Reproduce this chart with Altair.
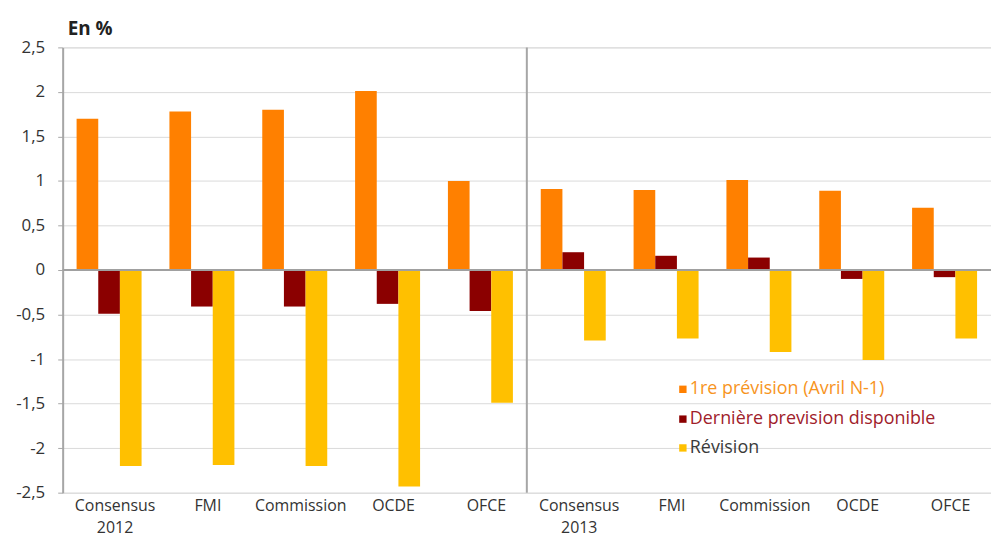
import altair as alt
import pandas as pd

categories = ["Consensus 2012", "FMI 2012", "Commission 2012", "OCDE 2012", "OFCE 2012",
              "Consensus 2013", "FMI 2013", "Commission 2013", "OCDE 2013", "OFCE 2013"]
series = ["1re prévision (Avril N-1)", "Dernière prevision disponible", "Révision"]
premiere = [1.70, 1.78, 1.80, 2.01, 1.00, 0.91, 0.90, 1.01, 0.89, 0.70]
derniere = [-0.49, -0.41, -0.41, -0.38, -0.46, 0.20, 0.16, 0.14, -0.10, -0.08]
revision = [-2.20, -2.19, -2.20, -2.43, -1.49, -0.79, -0.77, -0.92, -1.01, -0.77]
colors = ["#FF8000", "#8B0000", "#FFC000"]
legend_text_colors = ["#F7941D", "#A0202A", "#3A3A3A"]
y_ticks = [-2.5, -2, -1.5, -1, -0.5, 0, 0.5, 1, 1.5, 2, 2.5]

rows = []
for s, vals in zip(series, [premiere, derniere, revision]):
    for c, v in zip(categories, vals):
        rows.append({"cat": c, "serie": s, "val": v})
df = pd.DataFrame(rows)

W, H = 934, 448
FONT = "Open Sans"

bars = alt.Chart(df).mark_bar().encode(
    x=alt.X("cat:N", sort=categories,
            scale=alt.Scale(paddingInner=0.3, paddingOuter=0.15),
            axis=alt.Axis(title=None, labelAngle=0, domain=False, ticks=False,
                          labelPadding=5, labelFontSize=16, labelColor="#333333",
                          labelFont=FONT, labelLineHeight=22, labelOffset=6,
                          labelExpr="split(datum.value, ' ')[0] == 'Consensus' ? split(datum.value, ' ') : split(datum.value, ' ')[0]")),
    xOffset=alt.XOffset("serie:N", sort=series, scale=alt.Scale(paddingInner=0, paddingOuter=0)),
    y=alt.Y("val:Q", scale=alt.Scale(domain=[-2.5, 2.5], nice=False, zero=True),
            axis=alt.Axis(title=None, values=y_ticks, grid=True, gridColor="#DADADA",
                          domain=True, domainColor="#A6A6A6", domainWidth=2,
                          ticks=True, tickColor="#A6A6A6", tickSize=5,
                          labelFontSize=17, labelColor="#333333", labelFont=FONT,
                          labelPadding=13,
                          labelExpr="replace(toString(datum.value), '.', ',')")),
    color=alt.Color("serie:N", sort=series,
                    scale=alt.Scale(domain=series, range=colors), legend=None),
)

zero = alt.Chart(pd.DataFrame({"z": [0]})).mark_rule(color="#A0A0A0", strokeWidth=2).encode(
    y="z:Q"
)

sep = alt.Chart(pd.DataFrame({"z": [0]})).mark_rule(color="#A6A6A6", strokeWidth=2).encode(
    x=alt.value(W / 2), y=alt.value(0), y2=alt.value(H)
)

title = alt.Chart(pd.DataFrame({"t": ["En %"]})).mark_text(
    align="left", baseline="middle", fontSize=19, fontWeight="bold", font=FONT, color="#222222"
).encode(text="t:N", x=alt.value(5), y=alt.value(-18))

layers = [bars, zero, sep, title]
leg_y = [344, 374, 403]
for s, c, tc, ly in zip(series, colors, legend_text_colors, leg_y):
    d = pd.DataFrame({"label": [s]})
    layers.append(alt.Chart(d).mark_square(size=55, color=c, opacity=1).encode(
        x=alt.value(624), y=alt.value(ly)))
    layers.append(alt.Chart(d).mark_text(align="left", baseline="middle", fontSize=18,
                                         font=FONT, color=tc).encode(
        text="label:N", x=alt.value(631), y=alt.value(ly)))

chart = alt.layer(*layers).properties(
    width=W, height=H,
    autosize=alt.AutoSizeParams(type="none"),
    padding={"left": 55, "top": 38, "right": 0, "bottom": 47},
).configure_view(fill="#F2F2F2", stroke=None).configure(background="white")

chart.save("out.html", embed_options={"renderer": "svg", "actions": False})
